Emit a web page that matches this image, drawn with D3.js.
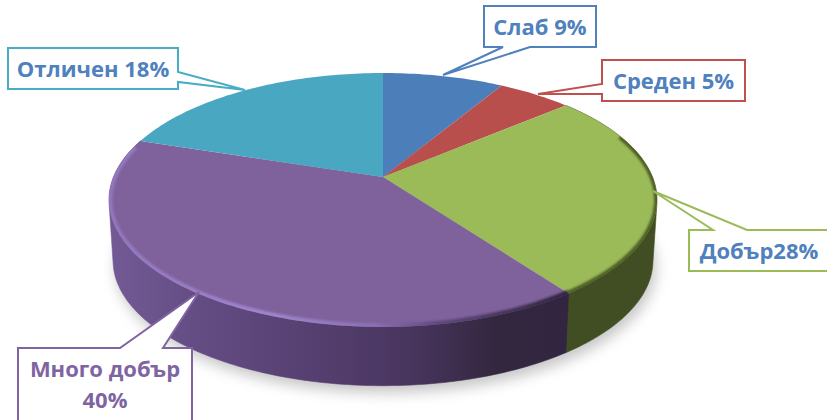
<!DOCTYPE html>
<html>
<head>
<meta charset="utf-8">
<style>
  html, body { margin: 0; padding: 0; background: #fff; }
  svg { display: block; }
  .label { font-family: "Open Sans", "Noto Sans", sans-serif; font-weight: 700; }
</style>
<script src="https://cdn.jsdelivr.net/npm/d3@7"></script>
</head>
<body>
<svg class="chart" width="827" height="420"></svg>
<script>
var categories = ["Слаб", "Среден", "Добър", "Много добър", "Отличен"];
var values = [8.5, 5.2, 26.3, 40, 20];
var colors = ["#4c7fba", "#b94f4c", "#9bbb59", "#7f619c", "#49a7c1"];
var labelLines = [["Слаб 9%"], ["Среден 5%"], ["Добър28%"], ["Много добър", "40%"], ["Отличен 18%"]];
var labelColors = ["#4f81bd", "#4f81bd", "#4f81bd", "#8064a2", "#4f81bd"];
var borderColors = ["#4f81bd", "#c0504d", "#9bbb59", "#8064a2", "#4bacc6"];

var width = 827, height = 420;

// perspective of the tilted disc
var cx = 383, cy = 177, scaleX = 269.5, scaleY = 122.8, tilt = 0.181;
var depth = 61, baseScale = 0.985;

function project(angle, r, isBase) {
    var v = -Math.cos(angle) * r;
    var w = 1 - tilt * v;
    var x = scaleX * Math.sin(angle) * r / w;
    var y = scaleY * v / w;
    if (isBase) return [cx + baseScale * x, cy + depth + baseScale * y];
    return [cx + x, cy + y];
}

function rim(a0, a1, isBase) {
    var n = Math.max(2, Math.ceil((a1 - a0) / 0.02));
    return d3.range(n + 1).map(function(i) {
        return project(a0 + (a1 - a0) * i / n, 1, isBase);
    });
}

var line = d3.line();
var svg = d3.select(".chart");
var defs = svg.append("defs");

defs.append("filter").attr("id", "soft").attr("x", "-10%").attr("y", "-10%").attr("width", "120%").attr("height", "120%")
    .append("feGaussianBlur").attr("stdDeviation", 7);
defs.append("filter").attr("id", "edge").attr("x", "-5%").attr("y", "-5%").attr("width", "110%").attr("height", "110%")
    .append("feGaussianBlur").attr("stdDeviation", 1.3);

var wallGrad = defs.append("linearGradient").attr("id", "purpleWall")
    .attr("gradientUnits", "userSpaceOnUse")
    .attr("x1", 110).attr("x2", 565).attr("y1", 0).attr("y2", 0);
[[0, "#735a96"], [0.2, "#634c82"], [0.45, "#553f70"], [0.65, "#49365f"], [0.85, "#33273f"], [1, "#312541"]].forEach(function(s) {
    wallGrad.append("stop").attr("offset", s[0]).attr("stop-color", s[1]);
});

var rimGrad = defs.append("linearGradient").attr("id", "purpleRim")
    .attr("gradientUnits", "userSpaceOnUse")
    .attr("x1", 110).attr("x2", 565).attr("y1", 0).attr("y2", 0);
[[0, "#9277bd"], [0.35, "#9f86cc"], [0.58, "#8b70b4"], [0.72, "#5f4a7c"], [1, "#30243f"]].forEach(function(s) {
    rimGrad.append("stop").attr("offset", s[0]).attr("stop-color", s[1]);
});

var arcs = d3.pie().sort(null).value(function(d) { return d; })(values);

// soft shadow under the disc
svg.append("path")
    .attr("d", line(rim(0, 2 * Math.PI, true)) + "Z")
    .attr("transform", "translate(3,7)")
    .attr("fill", "#8c8c8c")
    .attr("opacity", 0.5)
    .attr("filter", "url(#soft)");

// side walls, back ones first. hull of both rims gives the straight silhouette at the sides
svg.append("g").selectAll("path")
    .data(arcs.filter(function(d) { return d.index === 2 || d.index === 3; }))
    .join("path")
    .attr("d", function(d) {
        return line(d3.polygonHull(rim(d.startAngle, d.endAngle, false).concat(rim(d.startAngle, d.endAngle, true)))) + "Z";
    })
    .attr("fill", function(d) { return d.index === 3 ? "url(#purpleWall)" : "#414d22"; })
    .attr("stroke", function(d) { return d.index === 3 ? "url(#purpleWall)" : "#414d22"; })
    .attr("stroke-width", 0.6);

// top face
svg.append("g").selectAll("path")
    .data(arcs)
    .join("path")
    .attr("d", function(d) {
        return line([[cx, cy]].concat(rim(d.startAngle, d.endAngle, false))) + "Z";
    })
    .attr("fill", function(d, i) { return colors[i]; });

// bevel along the front of the top face, kept inside the top
var clip = defs.append("clipPath").attr("id", "topFace");
clip.append("path").attr("d", line(rim(0, 2 * Math.PI, false)) + "Z");

var rimGroup = svg.append("g").attr("clip-path", "url(#topFace)");
rimGroup.append("path")
    .attr("d", line(rim(arcs[2].startAngle + 0.35, arcs[2].endAngle, false)))
    .attr("fill", "none")
    .attr("stroke", "#4f5f28")
    .attr("stroke-width", 6)
    .attr("filter", "url(#edge)");
rimGroup.append("path")
    .attr("d", line(rim(arcs[3].startAngle, arcs[3].endAngle - 0.05, false)))
    .attr("fill", "none")
    .attr("stroke", "url(#purpleRim)")
    .attr("stroke-width", 7)
    .attr("filter", "url(#edge)");

// callouts: box, then pointer tip and the two points where it leaves the box
var boxes = [
    {x: 484, y: 6, w: 112, h: 41, side: "bottom", tip: [443, 75], a: 503, b: 530},
    {x: 602, y: 60, w: 143, h: 41, side: "left", tip: [538, 94], a: 84, b: 94},
    {x: 689, y: 230, w: 140, h: 41, side: "top", tip: [653, 191], a: 713, b: 747},
    {x: 18, y: 348, w: 174, h: 74, side: "top", tip: [199, 292], a: 120, b: 163},
    {x: 8, y: 48, w: 170, h: 41, side: "right", tip: [245, 90], a: 72, b: 82}
];

function calloutPoints(b) {
    var x0 = b.x, x1 = b.x + b.w, y0 = b.y, y1 = b.y + b.h;
    if (b.side === "top") return [[x0, y0], [b.a, y0], b.tip, [b.b, y0], [x1, y0], [x1, y1], [x0, y1]];
    if (b.side === "bottom") return [[x0, y0], [x1, y0], [x1, y1], [b.b, y1], b.tip, [b.a, y1], [x0, y1]];
    if (b.side === "left") return [[x0, y0], [x1, y0], [x1, y1], [x0, y1], [x0, b.b], b.tip, [x0, b.a]];
    return [[x0, y0], [x1, y0], [x1, b.a], b.tip, [x1, b.b], [x1, y1], [x0, y1]];
}

svg.append("g").selectAll("path")
    .data(boxes)
    .join("path")
    .attr("d", function(d) { return line(calloutPoints(d)) + "Z"; })
    .attr("fill", "#fff")
    .attr("stroke", function(d, i) { return borderColors[i]; })
    .attr("stroke-width", 2);

var labels = svg.append("g").selectAll("text")
    .data(boxes)
    .join("text")
    .attr("class", "label")
    .attr("text-anchor", "middle")
    .attr("font-size", 22)
    .attr("fill", function(d, i) { return labelColors[i]; });

labels.selectAll("tspan")
    .data(function(d, i) {
        return labelLines[i].map(function(t, j) { return {text: t, box: d, row: j}; });
    })
    .join("tspan")
    .attr("x", function(d) { return d.box.x + d.box.w / 2; })
    .attr("y", function(d) { return d.box.y + 29 + d.row * 31; })
    .text(function(d) { return d.text; });
</script>
</body>
</html>
